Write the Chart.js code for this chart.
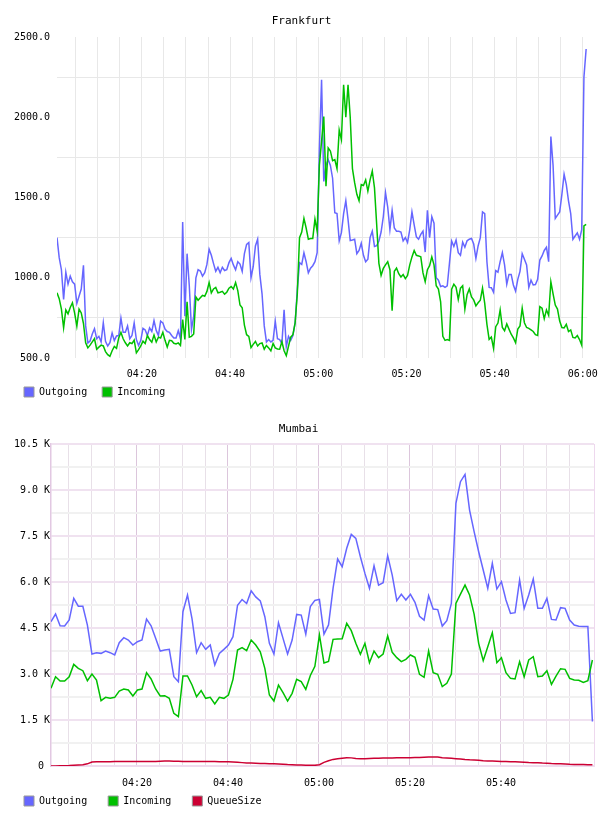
<!DOCTYPE html>
<html>
<head>
<meta charset="utf-8">
<script src="https://cdn.jsdelivr.net/npm/chart.js@4.4.0/dist/chart.umd.min.js"></script>
<style>
  html, body { margin: 0; padding: 0; background: #fff; overflow: hidden; width: 608px; height: 816px; }
  canvas { position: absolute; left: 0; }
  #frankfurt { top: 0; }
  #mumbai { top: 407px; }
</style>
</head>
<body>
<canvas id="frankfurt" width="608" height="415"></canvas>
<canvas id="mumbai" width="608" height="423"></canvas>
<script>
// times are minutes after 04:00, one sample every *Step minutes
const fraStart = 0.75;
const fraStep = 0.5;
const fraOutgoing = [
  1250, 1125, 1050, 865, 1035, 960, 1010, 975, 960, 840,
  885, 930, 1077, 700, 594, 606, 650, 683, 620, 635,
  600, 720, 604, 575, 596, 656, 608, 637, 640, 748,
  660, 660, 700, 620, 640, 719, 615, 578, 610, 685,
  675, 640, 688, 665, 733, 672, 640, 730, 719, 680,
  665, 660, 640, 625, 625, 670, 620, 1348, 760, 1150,
  950, 677, 760, 1000, 1050, 1042, 1010, 1031, 1083, 1177,
  1140, 1088, 1040, 1065, 1031, 1065, 1045, 1050, 1094, 1120,
  1080, 1050, 1100, 1085, 1040, 1150, 1208, 1219, 1000, 1070,
  1198, 1240, 1021, 900, 700, 600, 615, 600, 610, 729,
  620, 615, 590, 800, 570, 635, 610, 640, 719, 927,
  1094, 1083, 1156, 1100, 1030, 1060, 1075, 1100, 1156, 1800,
  2233, 1600, 1700, 1736, 1700, 1620, 1405, 1400, 1230, 1281,
  1400, 1480, 1364, 1232, 1235, 1240, 1150, 1170, 1215, 1140,
  1100, 1115, 1250, 1290, 1195, 1200, 1229, 1285, 1380, 1530,
  1440, 1300, 1420, 1310, 1290, 1290, 1285, 1230, 1250, 1220,
  1300, 1410, 1330, 1255, 1240, 1270, 1290, 1160, 1420, 1250,
  1380, 1340, 1000, 985, 945, 950, 940, 950, 1090, 1229,
  1195, 1235, 1156, 1140, 1222, 1190, 1230, 1240, 1245, 1210,
  1120, 1198, 1250, 1410, 1400, 1100, 940, 938, 910, 1045,
  1035, 1100, 1156, 1080, 960, 1021, 1021, 955, 917, 990,
  1040, 1150, 1115, 1080, 940, 985, 955, 958, 990, 1110,
  1136, 1170, 1190, 1100, 1880, 1700, 1370, 1390, 1410, 1520,
  1645, 1580, 1479, 1400, 1240, 1260, 1280, 1240, 1300, 2250,
  2425
];
const fraIncoming = [
  906, 870, 805, 688, 800, 775, 815, 844, 780, 698,
  805, 781, 715, 595, 563, 580, 600, 620, 555, 568,
  580, 575, 540, 521, 510, 545, 572, 560, 625, 660,
  620, 595, 575, 595, 590, 612, 532, 552, 575, 605,
  590, 640, 615, 598, 643, 600, 630, 625, 660, 610,
  568, 610, 608, 592, 588, 594, 578, 740, 615, 850,
  630, 635, 650, 880, 860, 875, 890, 885, 915, 970,
  906, 930, 940, 906, 910, 915, 898, 910, 935, 945,
  930, 970, 920, 830, 813, 705, 645, 635, 565, 585,
  603, 575, 590, 594, 555, 578, 563, 545, 590, 563,
  556, 555, 602, 545, 515, 573, 630, 645, 719, 900,
  1250, 1285, 1370, 1310, 1240, 1245, 1245, 1365, 1290, 1700,
  1850, 2005, 1571, 1809, 1790, 1730, 1736, 1680, 1920, 1860,
  2202, 2000, 2202, 2000, 1680, 1592, 1520, 1480, 1581, 1575,
  1610, 1540, 1610, 1665, 1560, 1330, 1090, 1015, 1058, 1080,
  1100, 1050, 795, 1040, 1060, 1025, 1005, 1020, 995, 1015,
  1080, 1130, 1170, 1140, 1136, 1130, 1030, 975, 1050, 1075,
  1130, 1080, 950, 929, 850, 635, 610, 615, 610, 929,
  960, 940, 865, 935, 950, 805, 895, 930, 880, 862,
  825, 844, 860, 935, 840, 710, 616, 630, 560, 695,
  718, 800, 690, 670, 712, 680, 648, 625, 595, 680,
  700, 810, 720, 690, 685, 675, 665, 645, 640, 820,
  810, 745, 800, 765, 975, 900, 830, 805, 730, 690,
  688, 710, 665, 675, 628, 625, 640, 615, 580, 1323,
  1333
];

const mumStart = 1.1;
const mumStep = 1;
const mumOutgoing = [
  4705, 4955, 4574, 4563, 4760, 5467, 5210, 5210, 4596, 3651,
  3695, 3673, 3749, 3695, 3619, 4021, 4184, 4108, 3945, 4054,
  4108, 4792, 4574, 4162, 3749, 3782, 3804, 2913, 2750, 5032,
  5576, 4800, 3695, 4021, 3804, 3945, 3293, 3673, 3804, 3945,
  4217, 5243, 5428, 5297, 5710, 5515, 5385, 4868, 3999, 3651,
  4673, 4162, 3651, 4108, 4944, 4922, 4300, 5200, 5400, 5434,
  4300, 4600, 5800, 6749, 6499, 7100, 7552, 7422, 6824, 6281,
  5792, 6531, 5900, 5977, 6857, 6227, 5390, 5597, 5412, 5597,
  5336, 4880, 4760, 5553, 5119, 5100, 4563, 4738, 5303, 8564,
  9270, 9509, 8346, 7640, 6987, 6390, 5792, 6608, 5770, 6010,
  5412, 4977, 5000, 6064, 5140, 5575, 6097, 5140, 5140, 5466,
  4780, 4760, 5162, 5140, 4759, 4596, 4560, 4550, 4550, 1450
];
const mumIncoming = [
  2533, 2911, 2770, 2770, 2911, 3314, 3184, 3108, 2782, 3000,
  2804, 2130, 2239, 2206, 2239, 2446, 2511, 2478, 2282, 2478,
  2511, 3043, 2837, 2511, 2282, 2293, 2206, 1717, 1608, 2934,
  2934, 2641, 2261, 2457, 2206, 2239, 2022, 2239, 2206, 2315,
  2826, 3782, 3858, 3760, 4108, 3945, 3727, 3184, 2315, 2119,
  2641, 2391, 2119, 2369, 2826, 2750, 2500, 2950, 3250, 4271,
  3358, 3412, 4130, 4141, 4151, 4651, 4412, 4000, 3640, 4000,
  3369, 3749, 3532, 3651, 4238, 3706, 3532, 3402, 3478, 3619,
  3543, 2989, 2891, 3749, 3043, 2989, 2587, 2695, 3000, 5303,
  5604, 5900, 5575, 4950, 4000, 3434, 3890, 4346, 3369, 3532,
  3043, 2858, 2836, 3402, 2911, 3456, 3565, 2911, 2934, 3108,
  2662, 2934, 3173, 3152, 2858, 2804, 2793, 2728, 2782, 3456
];
const mumQueueSize = [
  0, 0, 5, 10, 15, 25, 35, 40, 70, 130,
  140, 140, 140, 142, 145, 145, 145, 145, 145, 145,
  145, 145, 148, 150, 155, 160, 160, 158, 155, 150,
  150, 148, 145, 145, 145, 145, 145, 140, 138, 135,
  130, 120, 110, 100, 95, 90, 85, 80, 75, 70,
  65, 55, 45, 40, 35, 30, 25, 22, 22, 40,
  120, 170, 215, 240, 255, 270, 265, 245, 240, 240,
  245, 250, 255, 258, 260, 262, 265, 268, 270, 272,
  275, 280, 285, 290, 293, 290, 270, 260, 250, 240,
  225, 210, 200, 195, 190, 170, 165, 160, 155, 150,
  145, 140, 135, 130, 125, 115, 110, 105, 95, 90,
  80, 75, 70, 65, 55, 50, 48, 45, 43, 40
];

const BLUE = '#6666ff';
const GREEN = '#00c000';
const RED = '#cc0033';

Chart.defaults.font.family = "'DejaVu Sans Mono', monospace";
Chart.defaults.font.size = 10;
Chart.defaults.color = '#000';

// pull the legend up so it sits right under the tick labels
const liftLegend = {
  id: 'liftLegend',
  afterLayout(chart, args, opts) {
    if (chart.legend && opts.dy) {
      chart.legend.top -= opts.dy;
      chart.legend.bottom -= opts.dy;
    }
  }
};

function hhmm(m) {
  const h = 4 + Math.floor(m / 60);
  const mm = m % 60;
  return String(h).padStart(2, '0') + ':' + String(mm).padStart(2, '0');
}

function series(start, step, values) {
  return values.map((v, i) => ({ x: start + i * step, y: v }));
}

function legendLabels(padding) {
  return {
    boxWidth: 10,
    boxHeight: 10,
    padding: padding,
    sort: (a, b) => a.datasetIndex - b.datasetIndex,
    generateLabels: chart => Chart.defaults.plugins.legend.labels.generateLabels(chart)
      .map(l => Object.assign(l, { strokeStyle: '#999', lineWidth: 1 }))
  };
}

function line(label, data, color, order) {
  return { label, data, borderColor: color, backgroundColor: color, order, borderWidth: 1.5, pointRadius: 0, tension: 0 };
}

// Frankfurt
new Chart(document.getElementById('frankfurt'), {
  type: 'line',
  data: {
    datasets: [
      line('Outgoing', series(fraStart, fraStep, fraOutgoing), BLUE, 1),
      line('Incoming', series(fraStart, fraStep, fraIncoming), GREEN, 0)
    ]
  },
  plugins: [liftLegend],
  options: {
    responsive: false,
    animation: false,
    devicePixelRatio: 1,
    layout: { padding: { left: 9, right: 14, top: 0, bottom: 0 } },
    plugins: {
      title: { display: true, text: 'Frankfurt', font: { size: 11, weight: 'normal' }, color: '#000', padding: { top: 15, bottom: 8.8 } },
      legend: { position: 'bottom', align: 'start', labels: legendLabels(15) },
      liftLegend: { dy: 8 },
      tooltip: { enabled: false }
    },
    scales: {
      x: {
        type: 'linear', min: 0.75, max: 121, bounds: 'data',
        afterBuildTicks: s => { s.ticks = []; for (let m = 5; m <= 120; m += 5) s.ticks.push({ value: m }); },
        afterFit: s => { s.height = 22; },
        grid: { color: '#e8e8e8', drawTicks: false },
        border: { display: false },
        ticks: { autoSkip: false, maxRotation: 0, padding: 10, callback: v => (v % 20 === 0 ? hhmm(v) : '') }
      },
      y: {
        min: 500, max: 2500,
        afterBuildTicks: s => { s.ticks = []; for (let v = 500; v <= 2500; v += 250) s.ticks.push({ value: v }); },
        afterFit: s => { s.width = 48; },
        grid: { color: c => (c.tick && c.tick.value % 500 === 0 ? 'rgba(0,0,0,0)' : '#e8e8e8'), drawTicks: false },
        border: { display: false },
        ticks: { padding: 7, callback: v => (v % 500 === 0 ? v.toFixed(1) : '') }
      }
    }
  }
});

// Mumbai
new Chart(document.getElementById('mumbai'), {
  type: 'line',
  data: {
    datasets: [
      line('Outgoing', series(mumStart, mumStep, mumOutgoing), BLUE, 2),
      line('Incoming', series(mumStart, mumStep, mumIncoming), GREEN, 1),
      line('QueueSize', series(mumStart, mumStep, mumQueueSize), RED, 0)
    ]
  },
  plugins: [liftLegend],
  options: {
    responsive: false,
    animation: false,
    devicePixelRatio: 1,
    layout: { padding: { left: 3, right: 14, top: 0, bottom: 0 } },
    plugins: {
      title: { display: true, text: 'Mumbai', font: { size: 11, weight: 'normal' }, color: '#000', padding: { top: 15.4, bottom: 8.4 } },
      legend: { position: 'bottom', align: 'start', labels: legendLabels(21) },
      liftLegend: { dy: 14 },
      tooltip: { enabled: false }
    },
    scales: {
      x: {
        type: 'linear', min: 1.1, max: 120.45, bounds: 'data',
        afterBuildTicks: s => {
          s.ticks = [];
          for (let m = 5; m <= 115; m += 5) s.ticks.push({ value: m });
          s.ticks.push({ value: 120.45 });
        },
        afterFit: s => { s.height = 23; },
        grid: {
          drawTicks: false,
          color: c => {
            const v = c.tick ? c.tick.value : 0;
            if (v > 120) return '#eed8ee';
            return v % 20 === 0 ? '#dcc6dc' : '#e8e0e8';
          }
        },
        border: { display: true, color: '#eedcee', width: 2 },
        ticks: { autoSkip: false, maxRotation: 0, padding: 11, callback: v => (v % 20 === 0 ? hhmm(v) : '') }
      },
      y: {
        min: 0, max: 10500,
        afterBuildTicks: s => { s.ticks = []; for (let v = 0; v <= 10500; v += 750) s.ticks.push({ value: v }); },
        afterFit: s => { s.width = 48; },
        grid: {
          drawTicks: false,
          lineWidth: 2,
          color: c => (c.tick && c.tick.value % 1500 === 0 ? '#f0e2f0' : '#f1f1f1')
        },
        border: { display: true, color: '#e2c8e2', width: 1.5 },
        ticks: { padding: 1, callback: v => (v % 1500 !== 0 ? '' : v === 0 ? '0 ' : (v / 1000).toFixed(1) + ' K') }
      }
    }
  }
});
</script>
</body>
</html>
